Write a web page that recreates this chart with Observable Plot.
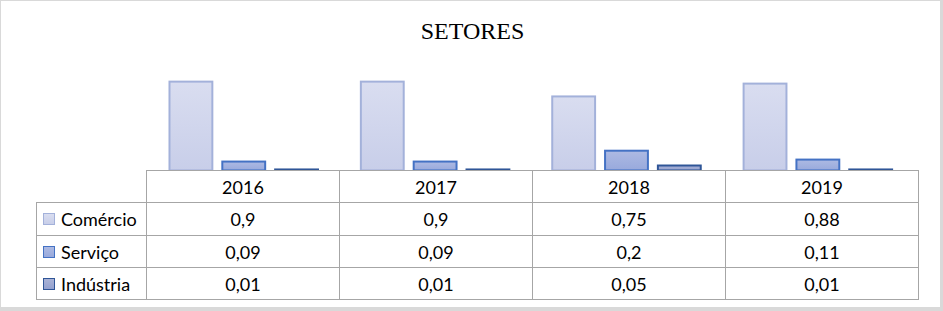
<!DOCTYPE html>
<html>
<head>
<meta charset="utf-8">
<script src="https://cdn.jsdelivr.net/npm/d3@7"></script>
<script src="https://cdn.jsdelivr.net/npm/@observablehq/plot@0.6"></script>
<style>
  html, body { margin: 0; padding: 0; background: #fff; }
  #wrap { position: relative; width: 943px; height: 311px; box-sizing: border-box;
          border-top: 1px solid #d9d9d9; border-left: 1px solid #d9d9d9;
          border-right: 3px solid #d9d9d9; border-bottom: 4px solid #d9d9d9; overflow: hidden; }
  #title { position: absolute; left: 0; width: 943px; top: 18px; text-align: center;
           font-family: "Liberation Serif", "Times New Roman", serif; font-size: 24px; line-height: 24px; color: #000; }
  #chart { position: absolute; left: -1px; top: -1px; }
  .cell { position: absolute; box-sizing: border-box; border: 1px solid #a6a6a6;
          font-family: Lato, "Liberation Sans", sans-serif; font-size: 18px; color: #000;
          display: flex; align-items: center; justify-content: center; }
  .lab { justify-content: flex-start; padding-left: 6px; }
  .sw { width: 12px; height: 12px; box-sizing: border-box; margin-right: 6px; }
</style>
</head>
<body>
<div id="wrap">
  <div id="title">SETORES</div>
  <div id="chart"></div>
</div>
<script>
const years = ["2016", "2017", "2018", "2019"];
const series = ["Comércio", "Serviço", "Indústria"];
const comercio = [0.9, 0.9, 0.75, 0.88];
const servico = [0.09, 0.09, 0.2, 0.11];
const industria = [0.01, 0.01, 0.05, 0.01];

const values = [comercio, servico, industria];
const fills = ["url(#gC)", "url(#gS)", "url(#gI)"];
const strokes = ["#a3b1da", "#4472c4", "#2f5597"];
const gradStops = [["#d9ddf0", "#c8cee9"], ["#adbae3", "#98a9dc"], ["#a9b2d6", "#94a1cf"]];

const data = series.map((s, i) => years.map((y, j) => ({year: y, series: s, value: values[i][j]})));

const chart = Plot.plot({
  width: 943,
  height: 172,
  marginLeft: 147,
  marginRight: 25,
  marginTop: 72,
  marginBottom: 1,
  fx: {domain: years, padding: 0, axis: null},
  x: {domain: series, paddingInner: 0.185, paddingOuter: 0.38, axis: null},
  y: {domain: [0, 1], axis: null},
  marks: series.map((s, i) =>
    Plot.barY(data[i], {fx: "year", x: "series", y: "value", fill: fills[i], stroke: strokes[i], strokeWidth: 2})
  )
});

// gradients
const svg = d3.select(chart);
const defs = svg.insert("defs", ":first-child");
["gC", "gS", "gI"].forEach((id, i) => {
  const g = defs.append("linearGradient").attr("id", id).attr("x1", 0).attr("y1", 0).attr("x2", 0).attr("y2", 1);
  g.append("stop").attr("offset", "0%").attr("stop-color", gradStops[i][0]);
  g.append("stop").attr("offset", "100%").attr("stop-color", gradStops[i][1]);
});
document.getElementById("chart").appendChild(chart);

// data table (legend + values)
const wrap = document.getElementById("wrap");
const colEdges = [36, 146, 339, 532, 725, 918];
const rowEdges = [170, 202, 235, 267, 299];
const fmt = v => String(v).replace(".", ",");
function cell(c, r, html, cls) {
  const d = document.createElement("div");
  d.className = "cell" + (cls ? " " + cls : "");
  d.style.left = (colEdges[c] - 1) + "px";
  d.style.top = (rowEdges[r] - 1) + "px";
  d.style.width = (colEdges[c + 1] - colEdges[c] + 1) + "px";
  d.style.height = (rowEdges[r + 1] - rowEdges[r] + 1) + "px";
  d.innerHTML = html;
  wrap.appendChild(d);
}
years.forEach((y, j) => cell(j + 1, 0, y));
series.forEach((s, i) => {
  const sw = `<span class="sw" style="border:1px solid ${strokes[i]};background:linear-gradient(${gradStops[i][0]},${gradStops[i][1]})"></span>`;
  cell(0, i + 1, sw + s, "lab");
  years.forEach((y, j) => cell(j + 1, i + 1, fmt(values[i][j])));
});
</script>
</body>
</html>
